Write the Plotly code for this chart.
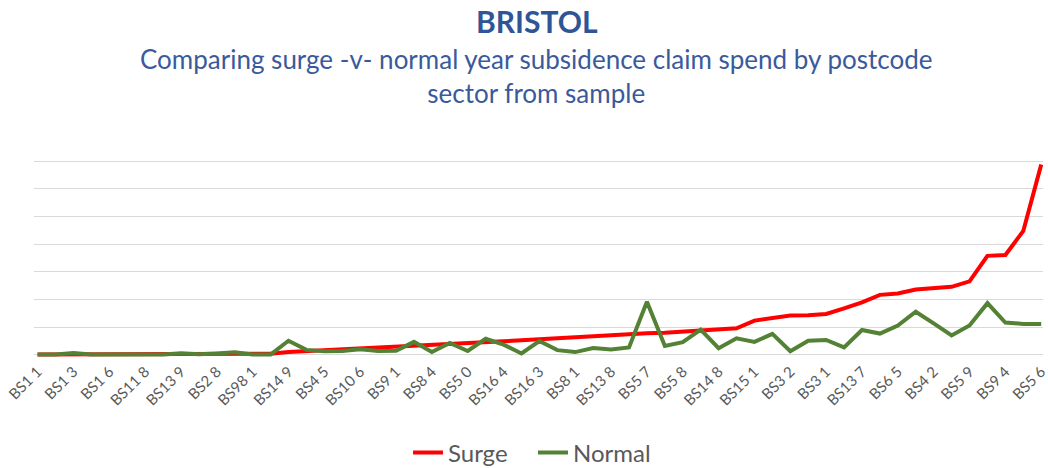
import plotly.graph_objects as go

# Postcode sectors in plotted order (sorted by surge-year spend)
sectors = [
    "BS1 1", "BS1 2", "BS1 3", "BS1 5", "BS1 6", "BS11 0", "BS11 8", "BS13 0",
    "BS13 9", "BS2 0", "BS2 8", "BS2 9", "BS98 1", "BS14 0", "BS14 9", "BS4 1",
    "BS4 5", "BS10 5", "BS10 6", "BS9 2", "BS9 1", "BS8 3", "BS8 4", "BS4 4",
    "BS5 0", "BS16 1", "BS16 4", "BS16 2", "BS16 3", "BS6 6", "BS8 1", "BS7 0",
    "BS13 8", "BS7 8", "BS5 7", "BS4 3", "BS5 8", "BS16 5", "BS14 8", "BS15 4",
    "BS15 1", "BS3 3", "BS3 2", "BS3 4", "BS3 1", "BS6 7", "BS13 7", "BS7 9",
    "BS6 5", "BS6 1", "BS4 2", "BS3 5", "BS5 9", "BS9 3", "BS9 4", "BS6 2",
    "BS5 6",
]

# Claim spend (relative units, one unit per gridline)
surge = [
    0.01, 0.01, 0.01, 0.01, 0.01, 0.01, 0.01, 0.01, 0.01, 0.01,
    0.02, 0.03, 0.02, 0.04, 0.10, 0.13, 0.16, 0.19, 0.22, 0.25,
    0.29, 0.33, 0.36, 0.39, 0.42, 0.45, 0.49, 0.53, 0.57, 0.60,
    0.63, 0.67, 0.71, 0.77, 0.78, 0.80, 0.84, 0.88, 0.90, 0.96,
    1.24, 1.33, 1.42, 1.43, 1.48, 1.68, 1.90, 2.17, 2.22, 2.36,
    2.40, 2.46, 2.66, 3.58, 3.61, 4.48, 6.88,
]
normal = [
    0.01, 0.01, 0.07, 0.01, 0.01, 0.01, 0.01, 0.01, 0.06, 0.02,
    0.05, 0.09, 0.01, 0.01, 0.51, 0.18, 0.13, 0.14, 0.20, 0.14,
    0.15, 0.47, 0.10, 0.43, 0.14, 0.58, 0.37, 0.05, 0.50, 0.17,
    0.10, 0.25, 0.19, 0.27, 1.92, 0.32, 0.46, 0.91, 0.24, 0.60,
    0.47, 0.76, 0.13, 0.51, 0.54, 0.27, 0.90, 0.77, 1.06, 1.56,
    1.14, 0.70, 1.06, 1.87, 1.17, 1.12, 1.12,
]

title_text = "BRISTOL"
subtitle_lines = [
    "Comparing surge -v- normal year subsidence claim spend by postcode",
    "sector from sample",
]

W, H = 1048, 468
M_L, M_R, M_T, M_B = 34, 5, 153, 109
plot_w = W - M_L - M_R
plot_h = H - M_T - M_B


def paper_y(px):
    """Convert a pixel row (from the top of the page) to paper y."""
    return (H - M_B - px) / plot_h


def paper_x(px):
    """Convert a pixel column to paper x."""
    return (px - M_L) / plot_w


fig = go.Figure()
fig.add_trace(go.Scatter(
    x=sectors, y=surge, name="Surge", mode="lines",
    line=dict(color="#FF0000", width=4),
))
fig.add_trace(go.Scatter(
    x=sectors, y=normal, name="Normal", mode="lines",
    line=dict(color="#548235", width=4),
))

fig.update_layout(
    width=W, height=H,
    margin=dict(l=M_L, r=M_R, t=M_T, b=M_B, autoexpand=False),
    paper_bgcolor="white", plot_bgcolor="white",
    font=dict(family="Lato, Open Sans, sans-serif", color="#595959"),
    showlegend=True,
    legend=dict(
        orientation="h", x=paper_x(533), xanchor="center",
        y=paper_y(453), yanchor="middle",
        font=dict(size=24, color="#595959"),
        entrywidth=80, entrywidthmode="pixels",
    ),
    annotations=[
        dict(text="<b>" + title_text + "</b>", x=paper_x(537), y=paper_y(21),
             xref="paper", yref="paper", yanchor="middle",
             showarrow=False, font=dict(size=30, color="#2F5597")),
        dict(text="<br>".join(subtitle_lines), x=paper_x(536), y=paper_y(76),
             xref="paper", yref="paper", yanchor="middle",
             showarrow=False, font=dict(size=26, color="#3A5A9B")),
    ],
)

fig.update_xaxes(
    type="category", range=[-0.2, 56.1], automargin=False,
    tickmode="array", tickvals=sectors[::2], ticktext=sectors[::2],
    tickangle=-45, tickfont=dict(size=15, color="#595959"),
    showgrid=False, showline=False, ticks="", zeroline=False,
)
fig.update_yaxes(
    range=[-0.15, 7.3], dtick=1, tick0=0, automargin=False,
    showgrid=True, gridcolor="#D9D9D9", gridwidth=1,
    showticklabels=False, zeroline=False, showline=False, ticks="",
)

fig.write_html("out.html")
